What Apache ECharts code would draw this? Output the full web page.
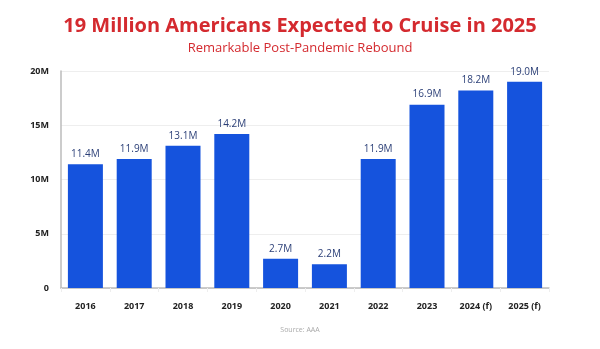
<!DOCTYPE html>
<html><head><meta charset="utf-8">
<script src="https://cdn.jsdelivr.net/npm/echarts@6/dist/echarts.min.js"></script>
<style>html,body{margin:0;padding:0;background:#fff}#c{width:600px;height:349px}</style>
</head><body><div id="c"></div>
<script>
const categories = ['2016','2017','2018','2019','2020','2021','2022','2023','2024 (f)','2025 (f)'];
const values = [11.4, 11.9, 13.1, 14.2, 2.7, 2.2, 11.9, 16.9, 18.2, 19.0];
const yTicks = ['0','5M','10M','15M','20M'];
const titleText = '19 Million Americans Expected to Cruise in 2025';
const subtitleText = 'Remarkable Post-Pandemic Rebound';
const sourceText = 'Source: AAA';

const chart = echarts.init(document.getElementById('c'));
chart.setOption({
  animation: false,
  backgroundColor: '#fff',
  title: [
    {text: titleText, left: 'center', top: 11,
     textStyle: {fontFamily: 'Open Sans', fontWeight: 'bold', fontSize: 20, color: '#d42a2f'}},
    {text: subtitleText, left: 'center', top: 37,
     textStyle: {fontFamily: 'Open Sans', fontWeight: 'normal', fontSize: 13, color: '#d42a2f'}},
    {text: sourceText, left: 'center', top: 321,
     textStyle: {fontFamily: 'Open Sans', fontWeight: 'normal', fontSize: 7, color: '#aaaaaa'}}
  ],
  grid: {left: 61, right: 51, top: 71, bottom: 61},
  xAxis: {
    type: 'category', data: categories,
    axisLine: {lineStyle: {color: '#bbbbbb', width: 1.5}},
    axisTick: {show: true, alignWithLabel: false, length: 4, lineStyle: {color: '#eeeeee'}},
    axisLabel: {fontFamily: 'Open Sans', fontWeight: 'bold', fontSize: 9, color: '#222', margin: 14}
  },
  yAxis: {
    type: 'value', min: 0, max: 20, interval: 5,
    axisLine: {show: true, lineStyle: {color: '#bbbbbb', width: 1.5}},
    axisTick: {show: false},
    splitLine: {lineStyle: {color: '#eeeeee'}},
    axisLabel: {fontFamily: 'Open Sans', fontWeight: 'bold', fontSize: 9, color: '#222', margin: 12,
      formatter: v => yTicks[v / 5]}
  },
  series: [{
    type: 'bar', data: values, barWidth: 35,
    itemStyle: {color: '#1553dd'},
    label: {show: true, position: 'top', distance: 5, fontFamily: 'Open Sans', fontSize: 10,
      color: '#2b3f77', formatter: p => p.value.toFixed(1) + 'M'}
  }]
});
</script></body></html>
